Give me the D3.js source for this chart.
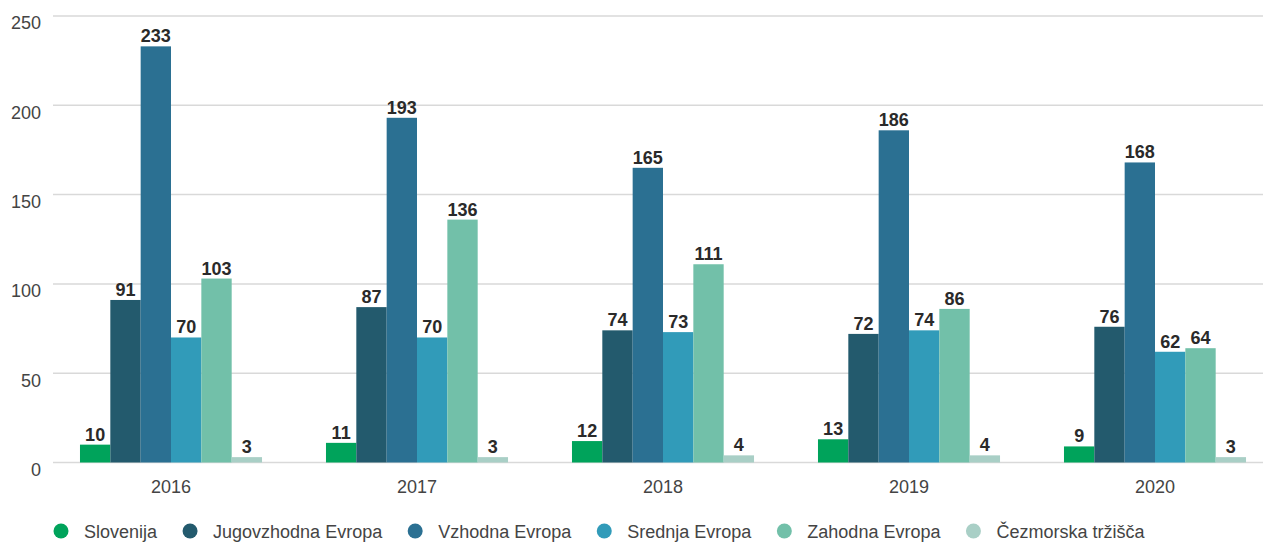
<!DOCTYPE html>
<html>
<head>
<meta charset="utf-8">
<script src="https://cdn.jsdelivr.net/npm/d3@7"></script>
<style>
  body { margin: 0; background: #fff; }
  svg { display: block; font-family: "Liberation Sans", Arial, sans-serif; }
</style>
</head>
<body>
<svg id="chart" width="1263" height="542"></svg>
<script>
var years = ["2016", "2017", "2018", "2019", "2020"];
var regions = ["Slovenija", "Jugovzhodna Evropa", "Vzhodna Evropa", "Srednja Evropa", "Zahodna Evropa", "Čezmorska tržišča"];
var slovenija = [10, 11, 12, 13, 9];
var jugovzhodna = [91, 87, 74, 72, 76];
var vzhodna = [233, 193, 165, 186, 168];
var srednja = [70, 70, 73, 74, 62];
var zahodna = [103, 136, 111, 86, 64];
var cezmorska = [3, 3, 4, 4, 3];
var yTicks = [0, 50, 100, 150, 200, 250];

var series = [slovenija, jugovzhodna, vzhodna, srednja, zahodna, cezmorska];
var colors = ["#00a35b", "#235a6d", "#2b7092", "#319bb9", "#72c0a9", "#a9cfc6"];

var svg = d3.select("svg#chart");

var x0 = d3.scaleBand()
    .domain(years)
    .range([48, 1278])
    .paddingInner(0.26)
    .paddingOuter(0.13);

var x1 = d3.scaleBand()
    .domain(d3.range(regions.length))
    .range([0, x0.bandwidth()]);

var y = d3.scaleLinear()
    .domain([0, 250])
    .range([462.5, 16]);

// gridlines + y labels
var grid = svg.append("g");
grid.selectAll("line")
  .data(yTicks)
  .enter().append("line")
    .attr("x1", 53)
    .attr("x2", 1263)
    .attr("y1", function(d) { return y(d); })
    .attr("y2", function(d) { return y(d); })
    .attr("stroke", "#d9d9d9")
    .attr("stroke-width", 1.5);

grid.selectAll("text")
  .data(yTicks)
  .enter().append("text")
    .attr("x", 41)
    .attr("y", function(d) { return y(d) + 7; })
    .attr("dy", "0.35em")
    .attr("text-anchor", "end")
    .attr("font-size", 18)
    .attr("fill", "#444")
    .text(function(d) { return d; });

// bars
var rows = years.map(function(yr, i) {
  return { year: yr, values: series.map(function(s, j) { return { k: j, v: s[i] }; }) };
});

var groups = svg.append("g")
  .selectAll("g")
  .data(rows)
  .enter().append("g")
    .attr("transform", function(d) { return "translate(" + x0(d.year) + ",0)"; });

groups.selectAll("rect")
  .data(function(d) { return d.values; })
  .enter().append("rect")
    .attr("x", function(d) { return x1(d.k); })
    .attr("y", function(d) { return y(d.v); })
    .attr("width", x1.bandwidth())
    .attr("height", function(d) { return y(0) - y(d.v); })
    .attr("fill", function(d) { return colors[d.k]; });

groups.selectAll("text")
  .data(function(d) { return d.values; })
  .enter().append("text")
    .attr("x", function(d) { return x1(d.k) + x1.bandwidth() / 2; })
    .attr("y", function(d) { return y(d.v) - 4; })
    .attr("text-anchor", "middle")
    .attr("font-size", 18)
    .attr("font-weight", "bold")
    .attr("fill", "#2a2a2a")
    .text(function(d) { return d.v; });

// x axis labels
svg.append("g")
  .selectAll("text")
  .data(years)
  .enter().append("text")
    .attr("x", function(d) { return x0(d) + x0.bandwidth() / 2; })
    .attr("y", 493)
    .attr("text-anchor", "middle")
    .attr("font-size", 18)
    .attr("fill", "#444")
    .text(function(d) { return d; });

// legend
var legend = svg.append("g");
var lx = 61;
regions.forEach(function(name, i) {
  var item = legend.append("g").attr("transform", "translate(" + lx + ",531)");
  item.append("circle")
    .attr("r", 7.5)
    .attr("fill", colors[i]);
  var t = item.append("text")
    .attr("x", 23)
    .attr("dy", "0.38em")
    .attr("font-size", 18)
    .attr("fill", "#444")
    .text(name);
  lx += 23 + t.node().getComputedTextLength() + 33;
});
</script>
</body>
</html>
